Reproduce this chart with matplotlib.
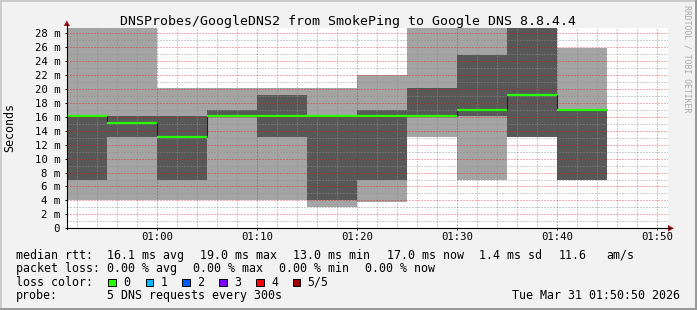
import numpy as np
import matplotlib.pyplot as plt
from matplotlib.patches import Rectangle, Polygon
from matplotlib.lines import Line2D

W, H = 697, 310

# ---- values (ms) ----
bin_end = ["00:55", "01:00", "01:05", "01:10", "01:15", "01:20",
           "01:25", "01:30", "01:35", "01:40", "01:45"]
ping1 = [4.05, 4.05, 4.05, 4.05, 4.05, 3.05, 3.8, 13.1, 6.9, 13.1, 6.9]
ping2 = [6.9, 13.05, 6.9, 16.1, 13.05, 4.05, 6.9, 16.1, 16.1, 13.1, 6.9]
median = [16.1, 15.15, 13.05, 16.1, 16.1, 16.1, 16.1, 16.1, 17.0, 19.1, 16.95]
ping4 = [16.2, 16.1, 16.1, 16.95, 19.1, 16.2, 16.95, 20.1, 24.85, 30.5, 16.95]
ping5 = [33.0, 31.0, 20.1, 20.1, 20.1, 20.1, 22.0, 30.0, 31.5, 34.0, 25.85]

rtt_stats = [16.1, 19.0, 13.0, 17.0]
rtt_sd = 1.4
rtt_ams = 11.6
loss_stats = [0.00, 0.00, 0.00, 0.00]
loss_labels = ["0", "1", "2", "3", "4", "5/5"]
loss_colors = ["#26ff00", "#00b8ff", "#0059ff", "#7e00ff", "#ff0000", "#a10000"]

step_min = 5
x_start, x_end = 51, 111.1
y_top = 28.74
title = "DNSProbes/GoogleDNS2 from SmokePing to Google DNS 8.8.4.4"
stamp = "Tue Mar 31 01:50:50 2026"


def to_min(s):
    h, m = s.split(":")
    return int(h) * 60 + int(m)


ends = [to_min(s) for s in bin_end]
edges = np.array([ends[0] - step_min] + ends, dtype=float)

plt.rcParams['font.family'] = ['DejaVu Sans Mono']
plt.rcParams['lines.scale_dashes'] = False


def fx(x):
    return x / W


def fy(y):
    return 1 - y / H


fig = plt.figure(figsize=(W / 100, H / 100), dpi=100, facecolor="#f2f2f2")

# frame shading
fig.patches.append(Rectangle((0, fy(2)), 1, 2 / H, transform=fig.transFigure, color="#cbcbcb", lw=0))
fig.patches.append(Rectangle((0, 0), 2 / W, 1, transform=fig.transFigure, color="#cbcbcb", lw=0))
fig.patches.append(Rectangle((fx(W - 2), 0), 2 / W, 1, transform=fig.transFigure, color="#999999", lw=0))
fig.patches.append(Rectangle((0, 0), 1, 2 / H, transform=fig.transFigure, color="#999999", lw=0))

ax = fig.add_axes([fx(67), fy(228.3), (668 - 67) / W, (228.3 - 28) / H])
ax.set_facecolor("white")

# smoke
ax.stairs(ping5, edges, baseline=ping1, fill=True, facecolor="#a4a4a4", edgecolor="none", lw=0)
ax.stairs(ping4, edges, baseline=ping2, fill=True, facecolor="#585858", edgecolor="none", lw=0)
# median
ax.stairs(median, edges, baseline=None, color="#202020", lw=0.8, zorder=3)
ax.hlines(median, edges[:-1], edges[1:], color=loss_colors[0], lw=1.6, zorder=4)

ax.set_xlim(x_start, x_end)
ax.set_ylim(0, y_top)

for sp in ax.spines.values():
    sp.set_visible(False)

xmaj = np.arange(60, 111, 10)
ax.set_xticks(xmaj)
ax.set_xticklabels([f"{int(v) // 60:02d}:{int(v) % 60:02d}" for v in xmaj])
ymaj = np.arange(0, 29, 2)
ax.set_yticks(ymaj)
ax.set_yticklabels([f"{v} m" if v else "0" for v in ymaj])

ax.tick_params(axis="both", which="major", labelsize=7.7, length=1.5, width=0.7)
ax.tick_params(axis="x", which="major", pad=1.5)
ax.tick_params(axis="y", which="major", pad=3.5)

# grid (rrdtool style dotted, drawn over the smoke)
dots = (0, (1.0, 1.0))
minor_col = (0.56, 0.56, 0.56, 0.45)
major_col = (0.94, 0.0, 0.0, 0.33)
for v in np.arange(52, 112, 2):
    if v % 10:
        ax.axvline(v, color=minor_col, lw=0.72, ls=dots, antialiased=False, zorder=2.5)
for v in np.arange(1, 29, 1):
    if v % 2:
        ax.axhline(v, color=minor_col, lw=0.72, ls=dots, antialiased=False, zorder=2.5)
for v in xmaj:
    ax.axvline(v, color=major_col, lw=0.72, ls=dots, antialiased=False, zorder=2.6)
for v in ymaj[1:]:
    ax.axhline(v, color=major_col, lw=0.72, ls=dots, antialiased=False, zorder=2.6)

# axes and arrows
fig.lines.append(Line2D([fx(66.5), fx(670)], [fy(228.3), fy(228.3)], transform=fig.transFigure, color="black", lw=0.8))
fig.lines.append(Line2D([fx(66.8), fx(66.8)], [fy(228.5), fy(24)], transform=fig.transFigure, color="black", lw=0.8))
fig.patches.append(Polygon([(fx(668), fy(225)), (fx(674), fy(228.3)), (fx(668), fy(231.6))],
                           closed=True, transform=fig.transFigure, color="#9c1c1c", lw=0))
fig.patches.append(Polygon([(fx(63.7), fy(26)), (fx(66.8), fy(20.5)), (fx(70), fy(26))],
                           closed=True, transform=fig.transFigure, color="#9c1c1c", lw=0))

# texts
fig.text(fx(348), fy(24.5), title, ha="center", va="baseline", fontsize=9.5)
fig.text(fx(10), fy(127), "Seconds", rotation=90, ha="center", va="center", fontsize=8.4)
fig.text(fx(686.5), fy(5), "RRDTOOL / TOBI OETIKER", rotation=270, ha="center", va="top",
         fontsize=5.9, color="#a8a8a8")

fs = 8.4
base = [259.0, 272.4, 285.8, 299.2]

line1 = [(16, "median rtt:"),
         (107.3, f"{rtt_stats[0]:.1f} ms avg"),
         (200, f"{rtt_stats[1]:.1f} ms max"),
         (293.3, f"{rtt_stats[2]:.1f} ms min"),
         (386.7, f"{rtt_stats[3]:.1f} ms now"),
         (479, f"{rtt_sd:.1f} ms sd"),
         (558.3, f"{rtt_ams:.1f}"),
         (606.7, "am/s")]
line2 = [(16, "packet loss:"),
         (107.3, f"{loss_stats[0]:.2f} % avg"),
         (193.3, f"{loss_stats[1]:.2f} % max"),
         (279.3, f"{loss_stats[2]:.2f} % min"),
         (365, f"{loss_stats[3]:.2f} % now")]
for x, s in line1:
    fig.text(fx(x), fy(base[0]), s, ha="left", va="baseline", fontsize=fs)
for x, s in line2:
    fig.text(fx(x), fy(base[1]), s, ha="left", va="baseline", fontsize=fs)

fig.text(fx(16), fy(base[2]), "loss color:", ha="left", va="baseline", fontsize=fs)
box_x = [108.3, 145.7, 182.3, 219, 256, 292.7]
for bx, lab, col in zip(box_x, loss_labels, loss_colors):
    fig.patches.append(Rectangle((fx(bx), fy(286.3)), 7.7 / W, 7.7 / H, transform=fig.transFigure,
                                 facecolor=col, edgecolor="black", lw=0.7))
    fig.text(fx(bx + 15), fy(base[2]), lab, ha="left", va="baseline", fontsize=fs)

fig.text(fx(16), fy(base[3]), "probe:", ha="left", va="baseline", fontsize=fs)
fig.text(fx(107.3), fy(base[3]), "5 DNS requests every 300s", ha="left", va="baseline", fontsize=fs)
fig.text(fx(680), fy(base[3]), stamp, ha="right", va="baseline", fontsize=fs)

fig.savefig("out.png", dpi=100, facecolor=fig.get_facecolor())
